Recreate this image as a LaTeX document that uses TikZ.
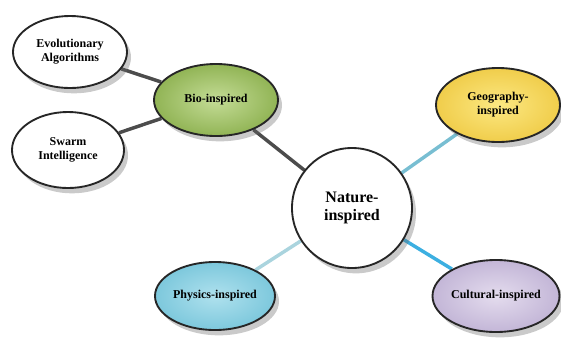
\documentclass[tikz,border=0pt]{standalone}
\usepackage{fontspec}
\setmainfont{Liberation Serif}
\usetikzlibrary{shapes.geometric,backgrounds,shadows}
\begin{document}
\begin{tikzpicture}[x=0.75pt,y=-0.75pt,
  bubble/.style={ellipse,draw=black!85,line width=1.4pt,inner sep=0pt,align=center,
    font=\bfseries\fontsize{9}{10.5}\selectfont,
    drop shadow={shadow xshift=3pt,shadow yshift=-4pt,opacity=0.35,fill=black!60}},
  darklink/.style={line width=2.6pt,draw=black!70},
  bluelink/.style={line width=2.6pt}]
\useasboundingbox (0,0) rectangle (561,337);
\node[bubble,minimum width=114*0.75pt,minimum height=72*0.75pt,
  shading=radial,inner color=white,outer color=white] (evo) at (70,52) {Evolutionary\\Algorithms};
\node[bubble,minimum width=112*0.75pt,minimum height=76*0.75pt,
  shading=radial,inner color=white,outer color=white] (swarm) at (68,150) {Swarm\\Intelligence};
\node[bubble,minimum width=124*0.75pt,minimum height=72*0.75pt,
  shading=radial,inner color={rgb,255:red,196;green,220;blue,150},outer color={rgb,255:red,145;green,180;blue,85}] (bio) at (216,100) {Bio-inspired};
\node[bubble,circle,minimum size=120*0.75pt,font=\bfseries\fontsize{12}{14}\selectfont,
  shading=radial,inner color=white,outer color=white] (nat) at (352,208) {Nature-\\inspired};
\node[bubble,minimum width=124*0.75pt,minimum height=74*0.75pt,
  shading=radial,inner color={rgb,255:red,252;green,232;blue,130},outer color={rgb,255:red,240;green,205;blue,75}] (geo) at (498,105) {Geography-\\inspired};
\node[bubble,minimum width=120*0.75pt,minimum height=68*0.75pt,
  shading=radial,inner color={rgb,255:red,175;green,225;blue,238},outer color={rgb,255:red,125;green,200;blue,220}] (phy) at (215,296) {Physics-inspired};
\node[bubble,minimum width=122*0.75pt,minimum height=72*0.75pt,
  shading=radial,inner color={rgb,255:red,228;green,220;blue,238},outer color={rgb,255:red,195;green,182;blue,215}] (cul) at (496,296) {Cultural-inspired};
\begin{scope}[on background layer]
\draw[darklink] (evo) -- (bio);
\draw[darklink] (swarm) -- (bio);
\draw[darklink] (bio) -- (nat);
\draw[bluelink,draw={rgb,255:red,120;green,190;blue,210}] (nat) -- (geo);
\draw[bluelink,draw={rgb,255:red,170;green,212;blue,222}] (nat) -- (phy);
\draw[bluelink,draw={rgb,255:red,60;green,175;blue,225}] (nat) -- (cul);
\end{scope}
\end{tikzpicture}
\end{document}
